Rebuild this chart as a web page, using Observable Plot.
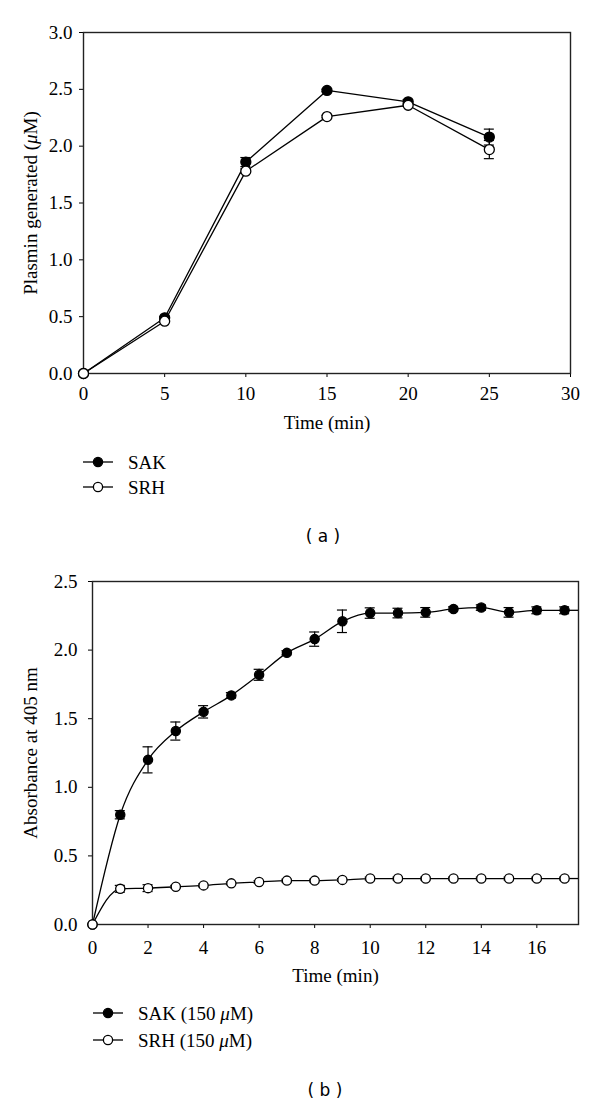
<!DOCTYPE html>
<html>
<head>
<meta charset="utf-8">
<script src="https://cdn.jsdelivr.net/npm/d3@7"></script>
<script src="https://cdn.jsdelivr.net/npm/@observablehq/plot@0.6"></script>
<style>
  html, body { margin: 0; padding: 0; background: #fff; }
  #page { position: relative; width: 600px; height: 1102px; background: #fff; overflow: hidden; }
  #page > * { position: absolute; left: 0; }
</style>
</head>
<body>
<div id="page"></div>
<script>
// ---------- Panel (a) data ----------
const timeA = [0, 5, 10, 15, 20, 25];
const sakA = [0, 0.49, 1.86, 2.49, 2.39, 2.08];
const sakErrA = [0, 0.01, 0.04, 0.01, 0.02, 0.07];
const srhA = [0, 0.46, 1.78, 2.26, 2.36, 1.97];
const srhErrA = [0, 0.01, 0.02, 0.01, 0.01, 0.08];
const xDomainA = [0, 30];
const xTicksA = [0, 5, 10, 15, 20, 25, 30];
const yDomainA = [0, 3];
const yTicksA = [0, 0.5, 1, 1.5, 2, 2.5, 3];
const seriesA = ["SAK", "SRH"];

// ---------- Panel (b) data ----------
const timeB = [0, 1, 2, 3, 4, 5, 6, 7, 8, 9, 10, 11, 12, 13, 14, 15, 16, 17];
const sakB = [0, 0.80, 1.20, 1.41, 1.55, 1.67, 1.82, 1.98, 2.08, 2.21, 2.27, 2.27, 2.275, 2.30, 2.31, 2.275, 2.29, 2.29];
const sakErrB = [0, 0.03, 0.095, 0.066, 0.045, 0.02, 0.04, 0.015, 0.052, 0.082, 0.038, 0.035, 0.035, 0.015, 0.02, 0.035, 0.025, 0.025];
const srhB = [0, 0.26, 0.265, 0.275, 0.285, 0.30, 0.31, 0.32, 0.32, 0.325, 0.335, 0.335, 0.335, 0.335, 0.335, 0.335, 0.335, 0.335];
const srhErrB = [0, 0.025, 0.025, 0.01, 0.01, 0.01, 0.01, 0.01, 0.01, 0.01, 0.01, 0.01, 0.01, 0.01, 0.01, 0.01, 0.01, 0.01];
const xDomainB = [0, 17.5];
const xTicksB = [0, 2, 4, 6, 8, 10, 12, 14, 16];
const yDomainB = [0, 2.5];
const yTicksB = [0, 0.5, 1, 1.5, 2, 2.5];
const seriesB = ["SAK (150 μM)", "SRH (150 μM)"];

const SERIF = "'Liberation Serif', 'Times New Roman', serif";
const SANS = "'DejaVu Sans', Verdana, sans-serif";
const fmt1 = d3.format(".1f");

function rows(t, v, e) { return t.map((tt, i) => ({t: tt, v: v[i], e: e[i]})); }

function seriesMarks(data, filled, r, curve) {
  const fill = filled ? "black" : "white";
  return [
    Plot.line(data, {x: "t", y: "v", stroke: "black", strokeWidth: 1.3, curve}),
    Plot.ruleX(data, {x: "t", y1: d => d.v - d.e, y2: d => d.v + d.e, stroke: "black", strokeWidth: 1.2}),
    Plot.ruleY(data, {y: d => d.v + d.e, x1: "t", x2: "t", insetLeft: -5, insetRight: -5, stroke: "black", strokeWidth: 1.2}),
    Plot.ruleY(data, {y: d => d.v - d.e, x1: "t", x2: "t", insetLeft: -5, insetRight: -5, stroke: "black", strokeWidth: 1.2}),
    Plot.dot(data, {x: "t", y: "v", r, fill, stroke: "black", strokeWidth: 1.3})
  ];
}

function italicMu(svg) {
  d3.select(svg).selectAll("text").each(function() {
    const el = this;
    if (el.childElementCount === 0 && el.textContent.includes("μ")) {
      const parts = el.textContent.split("μ");
      el.textContent = "";
      const s = d3.select(el);
      parts.forEach((p, i) => {
        if (i > 0) s.append("tspan").attr("font-style", "italic").text("μ");
        s.append("tspan").text(p);
      });
    }
  });
}

// ---------- Panel (a) ----------
const sakRowsA = rows(timeA, sakA, sakErrA);
const srhRowsA = rows(timeA, srhA, srhErrA);
const plotA = Plot.plot({
  width: 600, height: 440,
  marginTop: 32, marginBottom: 67, marginLeft: 83, marginRight: 30,
  style: {fontFamily: SERIF, fontSize: "19px", color: "black", background: "white", overflow: "visible"},
  x: {domain: xDomainA, ticks: xTicksA, tickSize: 4, tickPadding: 9, tickFormat: d => String(d), label: null},
  y: {domain: yDomainA, ticks: yTicksA, tickSize: 4, tickPadding: 7, tickFormat: fmt1, label: null},
  marks: [
    Plot.frame({stroke: "#222", strokeWidth: 1.4}),
    ...seriesMarks(sakRowsA, true, 5, "linear"),
    ...seriesMarks(srhRowsA, false, 5, "linear"),
    Plot.text(["Time (min)"], {text: d => d, frameAnchor: "bottom", dy: 49, fontSize: 19, textAnchor: "middle", lineAnchor: "middle"}),
    Plot.text(["Plasmin generated (μM)"], {text: d => d, frameAnchor: "left", dx: -53, rotate: -90, fontSize: 19, textAnchor: "middle", lineAnchor: "middle"})
  ]
});
plotA.style.top = "0px";
italicMu(plotA);

// ---------- Panel (b) ----------
const sakRowsB = rows(timeB, sakB, sakErrB);
const srhRowsB = rows(timeB, srhB, srhErrB);
const lastB = [sakRowsB[sakRowsB.length - 1], srhRowsB[srhRowsB.length - 1]];
const plotB = Plot.plot({
  width: 600, height: 452,
  marginTop: 33, marginBottom: 76, marginLeft: 92, marginRight: 22,
  style: {fontFamily: SERIF, fontSize: "19px", color: "black", background: "white", overflow: "visible"},
  x: {domain: xDomainB, ticks: xTicksB, tickSize: 4, tickPadding: 12, tickFormat: d => String(d), label: null},
  y: {domain: yDomainB, ticks: yTicksB, tickSize: 4, tickPadding: 11, tickFormat: fmt1, label: null},
  marks: [
    Plot.frame({stroke: "#222", strokeWidth: 1.4}),
    Plot.ruleY(lastB, {y: "v", x1: "t", x2: () => xDomainB[1], stroke: "black", strokeWidth: 1.3}),
    ...seriesMarks(sakRowsB, true, 4.6, "monotone-x"),
    ...seriesMarks(srhRowsB, false, 4.6, "monotone-x"),
    Plot.text(["Time (min)"], {text: d => d, frameAnchor: "bottom", dy: 51, fontSize: 19, textAnchor: "middle", lineAnchor: "middle"}),
    Plot.text(["Absorbance at 405 nm"], {text: d => d, frameAnchor: "left", dx: -62, rotate: -90, fontSize: 19, textAnchor: "middle", lineAnchor: "middle"})
  ]
});
plotB.style.top = "548px";

// ---------- Legends + captions ----------
function legendBlock(top, height, lineX0, items, itemYs, caption, captionX, captionY) {
  const svg = d3.create("svg").attr("width", 600).attr("height", height)
    .style("top", top + "px").style("background", "white");
  items.forEach((label, i) => {
    const y = itemYs[i];
    svg.append("line").attr("x1", lineX0).attr("x2", lineX0 + 30).attr("y1", y).attr("y2", y)
      .attr("stroke", "black").attr("stroke-width", 1.3);
    svg.append("circle").attr("cx", lineX0 + 15).attr("cy", y).attr("r", 4.6)
      .attr("fill", i === 0 ? "black" : "white").attr("stroke", "black").attr("stroke-width", 1.3);
    const t = svg.append("text").attr("x", lineX0 + 45).attr("y", y).attr("dy", "0.35em")
      .attr("font-family", SERIF).attr("font-size", 19).attr("fill", "black");
    const parts = label.split("μ");
    parts.forEach((p, j) => {
      if (j > 0) t.append("tspan").attr("font-style", "italic").text("μ");
      t.append("tspan").text(p);
    });
  });
  svg.append("text").attr("x", captionX).attr("y", captionY).attr("dy", "0.35em")
    .attr("text-anchor", "middle").attr("font-family", SANS).attr("font-size", 17)
    .attr("fill", "black").attr("xml:space", "preserve").style("white-space", "pre").text(caption);
  return svg.node();
}

const legA = legendBlock(440, 108, 83, seriesA, [22, 47], "( a )", 323, 96);
const legB = legendBlock(1000, 102, 93, seriesB, [13, 40], "( b )", 325, 90);

const page = document.getElementById("page");
page.appendChild(plotA);
page.appendChild(legA);
page.appendChild(plotB);
page.appendChild(legB);
</script>
</body>
</html>
